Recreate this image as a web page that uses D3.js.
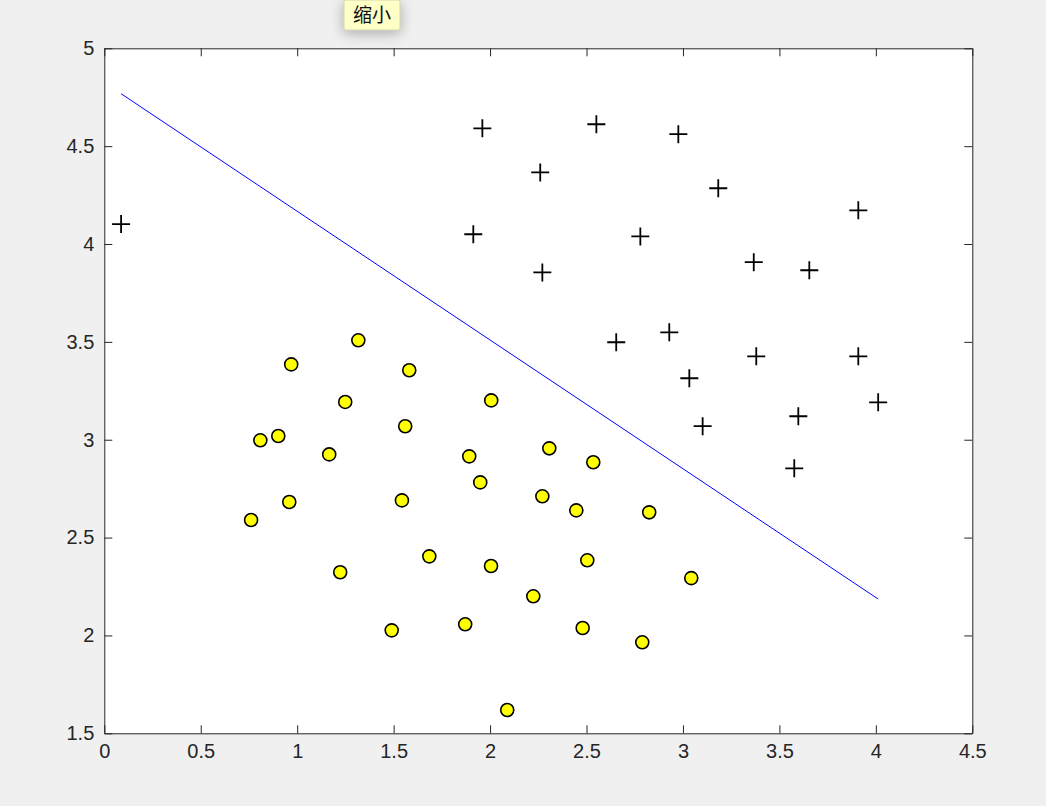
<!DOCTYPE html>
<html>
<head>
<meta charset="utf-8">
<script src="https://cdn.jsdelivr.net/npm/d3@7"></script>
<style>
  html, body { margin: 0; padding: 0; background: #f0f0f0; }
  svg { display: block; }
</style>
</head>
<body>
<svg id="chart" width="1046" height="806"></svg>
<script>
// Positive examples (+)
const posX = [0.087, 1.960, 2.551, 2.976, 2.260, 3.183, 3.909, 1.913, 2.779, 3.367, 3.655, 2.271, 2.654, 2.929, 3.380, 3.909, 3.033, 4.012, 3.102, 3.598, 3.577];
const posY = [4.102, 4.591, 4.612, 4.561, 4.366, 4.285, 4.172, 4.050, 4.039, 3.907, 3.866, 3.855, 3.498, 3.549, 3.426, 3.426, 3.314, 3.191, 3.069, 3.120, 2.854];
// Negative examples (o)
const negX = [1.317, 0.969, 1.581, 1.249, 2.006, 1.560, 0.809, 0.902, 1.166, 1.892, 2.307, 2.535, 1.949, 0.959, 1.543, 2.271, 0.761, 2.447, 2.825, 1.685, 2.504, 2.005, 1.223, 3.043, 2.224, 1.490, 1.871, 2.480, 2.789, 2.089];
const negY = [3.508, 3.385, 3.355, 3.193, 3.201, 3.069, 2.997, 3.019, 2.925, 2.915, 2.956, 2.885, 2.782, 2.682, 2.690, 2.711, 2.590, 2.639, 2.629, 2.404, 2.384, 2.355, 2.323, 2.293, 2.200, 2.026, 2.057, 2.038, 1.965, 1.619];
// Decision boundary
const lineX = [0.087, 4.012];
const lineY = [4.768, 2.186];
// Ticks
const xTicks = [0, 0.5, 1, 1.5, 2, 2.5, 3, 3.5, 4, 4.5];
const xTickLabels = ["0", "0.5", "1", "1.5", "2", "2.5", "3", "3.5", "4", "4.5"];
const yTicks = [1.5, 2, 2.5, 3, 3.5, 4, 4.5, 5];
const yTickLabels = ["1.5", "2", "2.5", "3", "3.5", "4", "4.5", "5"];
const tooltipText = "缩小";

const L = 104.3, R = 972.3, T = 48.3, B = 733.3;
const svg = d3.select("#chart");
const x = d3.scaleLinear().domain([0, 4.5]).range([L, R]);
const y = d3.scaleLinear().domain([1.5, 5]).range([B, T]);

const axisColor = "#262626";
const font = "'Liberation Sans', Arial, Helvetica, sans-serif";

// Axes background
svg.append("rect").attr("x", L).attr("y", T).attr("width", R - L).attr("height", B - T)
  .attr("fill", "#ffffff");

svg.append("clipPath").attr("id", "clip")
  .append("rect").attr("x", L).attr("y", T).attr("width", R - L).attr("height", B - T);

const plot = svg.append("g").attr("clip-path", "url(#clip)");

// Decision boundary
plot.append("line")
  .attr("x1", x(lineX[0])).attr("y1", y(lineY[0]))
  .attr("x2", x(lineX[1])).attr("y2", y(lineY[1]))
  .attr("stroke", "#0000ff").attr("stroke-width", 1);

const pos = posX.map((v, i) => [v, posY[i]]);
const neg = negX.map((v, i) => [v, negY[i]]);

// Positive markers
plot.append("g").selectAll("path").data(pos).join("path")
  .attr("d", d => {
    const cx = x(d[0]), cy = y(d[1]), a = 9;
    return `M${cx - a},${cy}H${cx + a}M${cx},${cy - a}V${cy + a}`;
  })
  .attr("stroke", "#000").attr("stroke-width", 1.8).attr("fill", "none");

// Negative markers
plot.append("g").selectAll("circle").data(neg).join("circle")
  .attr("cx", d => x(d[0])).attr("cy", d => y(d[1])).attr("r", 6.5)
  .attr("fill", "#ffff00").attr("stroke", "#000").attr("stroke-width", 1.6);

// Axes
const tickLen = 8;
const axB = d3.axisBottom(x).tickValues(xTicks).tickFormat((d, i) => xTickLabels[i]).tickSizeInner(-tickLen).tickSizeOuter(0).tickPadding(11);
const axT = d3.axisTop(x).tickValues(xTicks).tickFormat("").tickSizeInner(-tickLen).tickSizeOuter(0);
const axL = d3.axisLeft(y).tickValues(yTicks).tickFormat((d, i) => yTickLabels[i]).tickSizeInner(-tickLen).tickSizeOuter(0).tickPadding(10);
const axR = d3.axisRight(y).tickValues(yTicks).tickFormat("").tickSizeInner(-tickLen).tickSizeOuter(0);

function style(g) {
  g.selectAll("path.domain").attr("stroke", axisColor).attr("stroke-width", 1);
  g.selectAll(".tick line").attr("stroke", axisColor).attr("stroke-width", 1);
  g.selectAll(".tick text").attr("fill", axisColor).attr("font-family", font).attr("font-size", 20);
}
svg.append("g").attr("transform", `translate(0,${B})`).call(axB).call(style);
svg.append("g").attr("transform", `translate(0,${T})`).call(axT).call(style);
svg.append("g").attr("transform", `translate(${L},0)`).call(axL).call(style);
svg.append("g").attr("transform", `translate(${R},0)`).call(axR).call(style);

// Tooltip
const defs = svg.append("defs");
const f = defs.append("filter").attr("id", "shadow").attr("x", "-60%").attr("y", "-60%").attr("width", "220%").attr("height", "260%");
f.append("feGaussianBlur").attr("in", "SourceAlpha").attr("stdDeviation", 7);
f.append("feOffset").attr("dx", 0).attr("dy", 3).attr("result", "b");
f.append("feComponentTransfer").append("feFuncA").attr("type", "linear").attr("slope", 0.3);
const m = f.append("feMerge"); m.append("feMergeNode"); m.append("feMergeNode").attr("in", "SourceGraphic");

const tip = svg.append("g");
tip.append("rect").attr("x", 344).attr("y", 0).attr("width", 56).attr("height", 30)
  .attr("fill", "#ffffc8").attr("stroke", "#c8c8a8").attr("stroke-width", 0.8)
  .attr("filter", "url(#shadow)");
tip.append("text").attr("x", 372).attr("y", 22).attr("text-anchor", "middle")
  .attr("font-family", "'Noto Sans CJK SC', sans-serif").attr("font-size", 19).attr("fill", "#111")
  .text(tooltipText);
</script>
</body>
</html>
